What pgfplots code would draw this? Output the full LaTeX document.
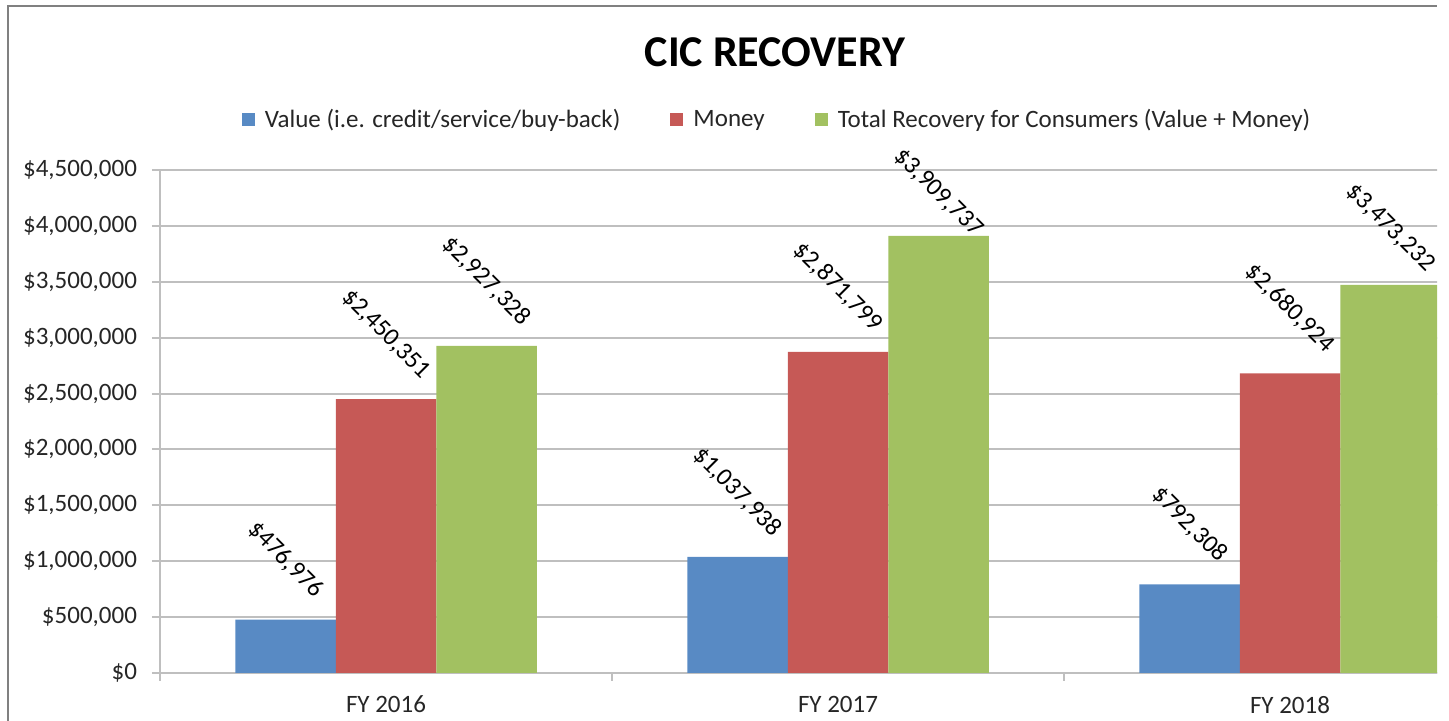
\documentclass[border=0pt]{standalone}
\usepackage{pgfplots}
\pgfplotsset{compat=1.18}
\usepackage{fontspec}
\setmainfont{Carlito}
\definecolor{cblue}{RGB}{88,138,196}
\definecolor{cred}{RGB}{198,89,86}
\definecolor{cgreen}{RGB}{162,193,97}
\definecolor{gridc}{RGB}{191,191,191}
\begin{document}
\begin{tikzpicture}
\useasboundingbox (0pt,0pt) rectangle (724.5pt,360.5pt);
\begin{scope}
\clip (0pt,0pt) rectangle (718.5pt,360.5pt);
\begin{axis}[
  at={(80pt,24pt)}, anchor=south west,
  scale only axis, width=678pt, height=251.5pt,
  xmin=-0.5, xmax=2.5, ymin=0, ymax=4500000,
  ybar=0pt, bar width=50.25pt,
  axis lines=left, axis line style={-, gridc, line width=1pt},
  xtick={0,1,2}, xticklabels={FY 2016,FY 2017,FY 2018},
  major x tick style={draw=none},
  minor xtick={-0.5,0.5,1.5,2.5},
  scaled y ticks=false,
  ytick={0,500000,1000000,1500000,2000000,2500000,3000000,3500000,4000000,4500000},
  yticklabels={\$0,{\$500,000},{\$1,000,000},{\$1,500,000},{\$2,000,000},{\$2,500,000},{\$3,000,000},{\$3,500,000},{\$4,000,000},{\$4,500,000}},
  ymajorgrids, grid style={gridc, line width=1pt},
  tick align=outside, major tick length=4pt, minor tick length=4pt,
  tick style={gridc, line width=1pt},
  yticklabel style={font=\fontsize{12.5}{15}\selectfont, text=black!85, xshift=-4pt},
  xticklabel style={font=\fontsize{12.5}{15}\selectfont, text=black!85, yshift=-4pt},
  title={CIC RECOVERY},
  title style={at={(0.4535,1.2107)}, anchor=center, font=\bfseries\fontsize{22}{26}\selectfont},
  legend style={at={(0.4558,1.0994)}, anchor=center, draw=none, fill=none,
    legend columns=3, font=\fontsize{12.5}{15}\selectfont, text=black!85,
    /tikz/every odd column/.append style={column sep=3pt},
    /tikz/every even column/.append style={column sep=23pt}},
  point meta=explicit symbolic,
  nodes near coords={\$\pgfplotspointmeta},
  visualization depends on={\thisrow{off}\as\myoff},
  every node near coord/.append style={anchor=center, yshift=\myoff pt, rotate=-45,
    font=\fontsize{12.5}{15}\selectfont, text=black},
]
\addplot[fill=cblue, draw=none, legend image code/.code={\fill[cblue] (0pt,-3.25pt) rectangle (6.5pt,3.25pt);}]
  table[x=x, y=y, meta=lab] {
x y lab off
0 476976 476,976 30
1 1037938 1,037,938 32.5
2 792308 792,308 30
};
\addplot[fill=cred, draw=none, legend image code/.code={\fill[cred] (0pt,-3.25pt) rectangle (6.5pt,3.25pt);}]
  table[x=x, y=y, meta=lab] {
x y lab off
0 2450351 2,450,351 32.5
1 2871799 2,871,799 32.5
2 2680924 2,680,924 32.5
};
\addplot[fill=cgreen, draw=none, legend image code/.code={\fill[cgreen] (0pt,-3.25pt) rectangle (6.5pt,3.25pt);}]
  table[x=x, y=y, meta=lab] {
x y lab off
0 2927328 2,927,328 32.5
1 3909737 3,909,737 21.5
2 3473232 3,473,232 28.5
};
\legend{Value (i.e. credit/service/buy-back), Money, Total Recovery for Consumers (Value + Money)}
\end{axis}
\end{scope}
\draw[gray, line width=1pt] (4pt,0pt) -- (4pt,357.5pt) -- (718.5pt,357.5pt);
\end{tikzpicture}
\end{document}
